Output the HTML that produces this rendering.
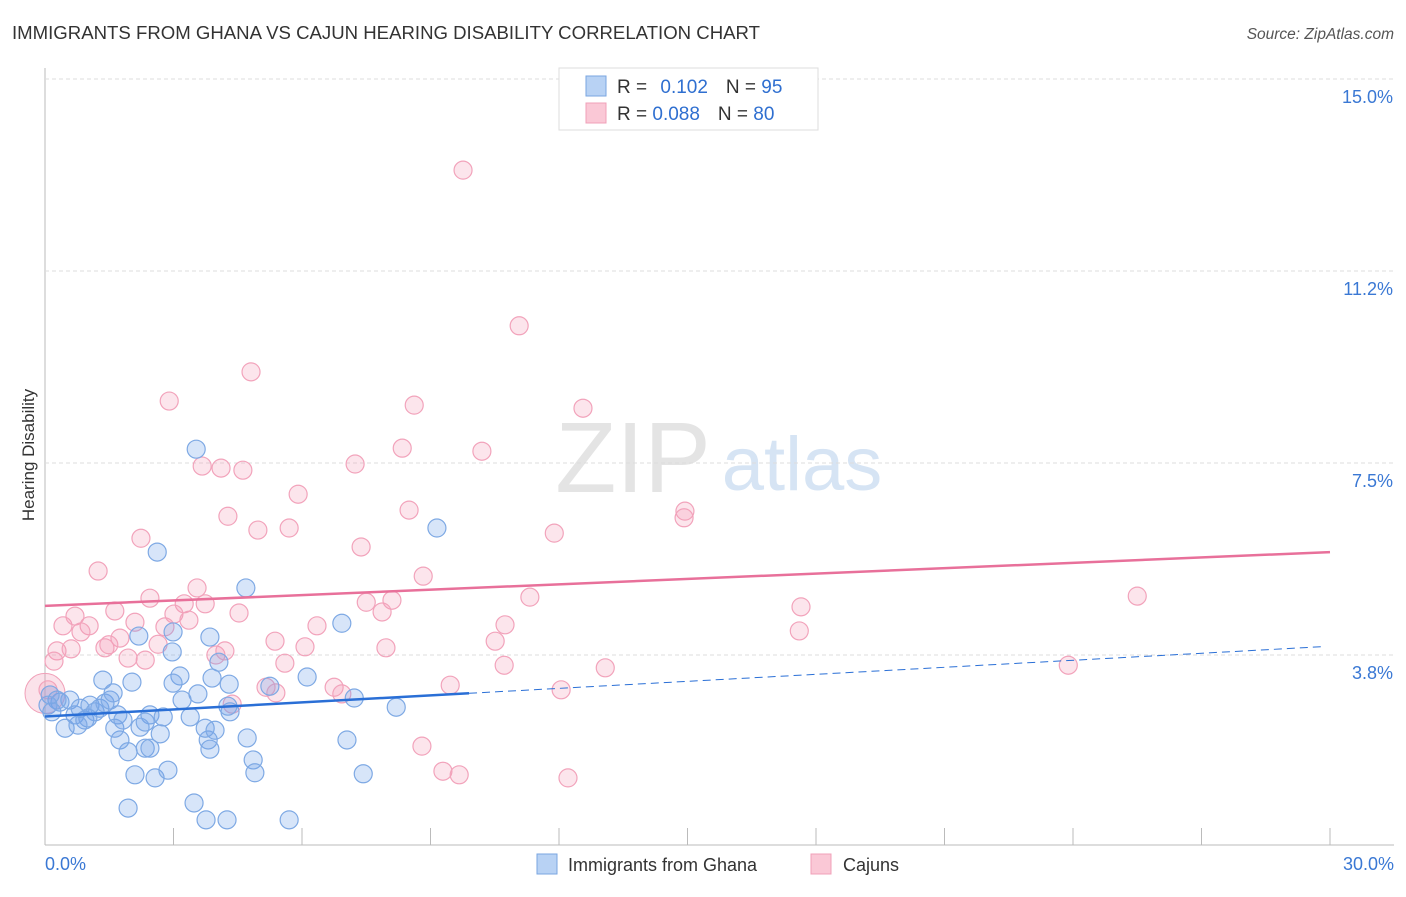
<!DOCTYPE html>
<html><head><meta charset="utf-8"><style>
body{margin:0;background:#fff;font-family:"Liberation Sans",sans-serif}
svg text{font-family:"Liberation Sans",sans-serif}
</style></head><body>
<svg id="c" width="1406" height="892">
<text x="12" y="39" font-size="18.6" fill="#333">IMMIGRANTS FROM GHANA VS CAJUN HEARING DISABILITY CORRELATION CHART</text>
<text x="1394" y="39" font-size="15.5" fill="#555" font-style="italic" text-anchor="end">Source: ZipAtlas.com</text>
<text x="34" y="455" font-size="17" fill="#333" text-anchor="middle" transform="rotate(-90 34 455)">Hearing Disability</text>
<g><text x="633" y="492" font-size="100" fill="#e4e4e4" font-family="Liberation Serif" text-anchor="middle">ZIP</text><text x="802" y="490" font-size="76" fill="#d6e4f4" text-anchor="middle">atlas</text></g>
<g id="grid"></g><g id="marks"></g>
<g>
<rect x="559" y="68" width="259" height="62" fill="#fff" stroke="#ddd"/>
<rect x="586" y="76" width="20" height="20" fill="#b8d2f4" stroke="#7aa6e0"/>
<rect x="586" y="103" width="20" height="20" fill="#fac8d6" stroke="#f0a0b8"/>
<text x="617" y="93" font-size="19" fill="#333">R = <tspan fill="#2f6fd0" dx="8">0.102</tspan><tspan dx="18" fill="#333">N = </tspan><tspan fill="#2f6fd0">95</tspan></text>
<text x="617" y="120" font-size="19" fill="#333">R = <tspan fill="#2f6fd0">0.088</tspan><tspan dx="18" fill="#333">N = </tspan><tspan fill="#2f6fd0">80</tspan></text>
</g>
<g>
<rect x="537" y="854" width="20" height="20" fill="#b8d2f4" stroke="#7aa6e0"/>
<text x="568" y="871" font-size="18" fill="#333">Immigrants from Ghana</text>
<rect x="811" y="854" width="20" height="20" fill="#fac8d6" stroke="#f0a0b8"/>
<text x="843" y="871" font-size="18" fill="#333">Cajuns</text>
</g>
</svg>
<script>
const yTicks=[3.75,7.5,11.25,15];
const yTickLabels=["3.8%","7.5%","11.2%","15.0%"];
const xTicks=[0,3,6,9,12,15,18,21,24,27,30];
const blueX=[.35,.47,.58,.70,.82,.93,1.05,1.17,1.28,1.40,1.52,1.59,1.70,1.35,2.03,2.45,1.75,1.94,2.34,2.45,2.10,2.57,2.87,1.94,3.48,3.76,4.25,5.70,3.53,2.62,4.69,2.19,2.99,3.85,4.06,2.97,3.15,3.57,3.90,4.30,6.12,6.93,7.22,8.20,9.15,4.72,4.86,4.90,7.05,7.43,3.81,3.85,4.32,3.74,3.39,2.99,2.69,2.22,1.63,1.00,.77,.28,.12,.07,.16,5.25,1.82,2.76,3.20,4.27,2.34,3.97];
const blueY=[2.83,2.32,2.87,2.58,2.71,2.48,2.77,2.64,2.71,2.81,2.87,3.01,2.58,3.26,3.22,2.58,2.09,1.86,1.93,1.93,1.41,1.35,1.50,.76,.86,.53,.53,.53,7.77,5.76,5.06,4.12,4.20,4.10,3.61,3.81,3.34,2.99,3.30,3.18,3.32,4.37,2.91,2.73,6.23,2.13,1.70,1.45,2.09,1.43,2.09,1.91,2.64,2.32,2.54,3.20,2.21,2.34,2.32,2.52,2.38,2.87,2.97,2.77,2.64,3.14,2.48,2.54,2.87,2.75,2.44,2.28];
const pinkX=[9.76,11.07,4.81,2.90,8.62,12.56,8.34,10.20,3.67,4.11,4.62,7.24,5.91,4.27,8.50,14.94,14.92,4.97,5.70,2.24,7.38,11.89,1.24,8.83,3.55,2.45,3.25,3.74,1.63,3.01,4.53,7.50,8.10,7.87,11.32,17.65,25.50,.42,.70,1.03,.84,2.10,2.80,3.36,6.35,10.74,17.61,1.75,1.40,1.49,2.64,5.37,6.07,7.96,10.51,.28,.61,1.94,2.34,3.99,5.60,10.72,13.08,23.89,.21,.07,5.16,5.39,6.75,6.93,9.46,12.05,4.37,8.80,9.29,9.67,12.21,4.20];
const pinkY=[13.22,10.18,9.28,8.71,8.63,8.57,7.79,7.73,7.44,7.40,7.36,7.48,6.89,6.46,6.58,6.56,6.43,6.19,6.23,6.03,5.86,6.13,5.39,5.29,5.06,4.86,4.75,4.75,4.61,4.55,4.57,4.78,4.82,4.59,4.88,4.69,4.90,4.32,4.51,4.32,4.20,4.39,4.30,4.43,4.32,4.34,4.22,4.08,3.89,3.95,3.96,4.02,3.91,3.89,4.02,3.83,3.87,3.69,3.65,3.75,3.59,3.55,3.50,3.55,3.63,3.07,3.12,3.01,3.12,2.99,3.16,3.07,2.79,1.97,1.48,1.41,1.35,3.83];
const blueTrend=[2.55,0.0457];const blueSolidEnd=9.9;
const pinkTrend=[4.71,0.035];
const X=v=>45+v*1285/30, Y=v=>847-v*51.2;
const NS="http://www.w3.org/2000/svg";
const grid=document.getElementById('grid'),marks=document.getElementById('marks');
function mk(p,tag,a){const e=document.createElementNS(NS,tag);for(const k in a)e.setAttribute(k,a[k]);p.appendChild(e);return e;}
let e;
e=mk(grid,'line',{x1:45,y1:68,x2:45,y2:845,stroke:'#bbb'});


e=mk(grid,'line',{x1:45,y1:845,x2:1394,y2:845,stroke:'#bbb'});


yTicks.forEach((t,i)=>{
 e=mk(grid,'line',{x1:45,x2:1394,y1:Y(t),y2:Y(t),stroke:'#ddd','stroke-dasharray':'4,3'});
 
 
 e=mk(grid,'text',{x:1393,y:Y(t)+24,'font-size':18,fill:'#3a78d4','text-anchor':'end'});
 e.textContent=yTickLabels[i];
 
 
});
xTicks.forEach(t=>{
 e=mk(grid,'line',{x1:X(t),x2:X(t),y1:828,y2:845,stroke:'#bbb'});
 
 
});
e=mk(grid,'text',{x:45,y:870,'font-size':18,fill:'#3a78d4'});e.textContent='0.0%';


e=mk(grid,'text',{x:1394,y:870,'font-size':18,fill:'#3a78d4','text-anchor':'end'});e.textContent='30.0%';


e=mk(marks,'circle',{cx:45,cy:Y(3.0),r:20,fill:'rgba(240,140,170,0.25)',stroke:'#f0a0b8'});


pinkX.forEach((x,i)=>{
 e=mk(marks,'circle',{cx:X(x),cy:Y(pinkY[i]),r:9,fill:'rgba(245,150,180,0.25)',stroke:'#f2a3bb','stroke-width':1.2});
 
 
});
blueX.forEach((x,i)=>{
 e=mk(marks,'circle',{cx:X(x),cy:Y(blueY[i]),r:9,fill:'rgba(110,160,235,0.28)',stroke:'#7ea9e4','stroke-width':1.2});
 
 
});
const pt=(tr,x)=>tr[0]+tr[1]*x;
e=mk(marks,'line',{x1:X(0),y1:Y(pt(pinkTrend,0)),x2:X(30),y2:Y(pt(pinkTrend,30)),stroke:'#e8709a','stroke-width':2.5});


e=mk(marks,'line',{x1:X(0),y1:Y(pt(blueTrend,0)),x2:X(blueSolidEnd),y2:Y(pt(blueTrend,blueSolidEnd)),stroke:'#2a6fd6','stroke-width':2.5});


e=mk(marks,'line',{x1:X(blueSolidEnd),y1:Y(pt(blueTrend,blueSolidEnd)),x2:X(29.9),y2:Y(pt(blueTrend,29.9)),stroke:'#2a6fd6','stroke-width':1,'stroke-dasharray':'8,5'});


</script>
</body></html>
